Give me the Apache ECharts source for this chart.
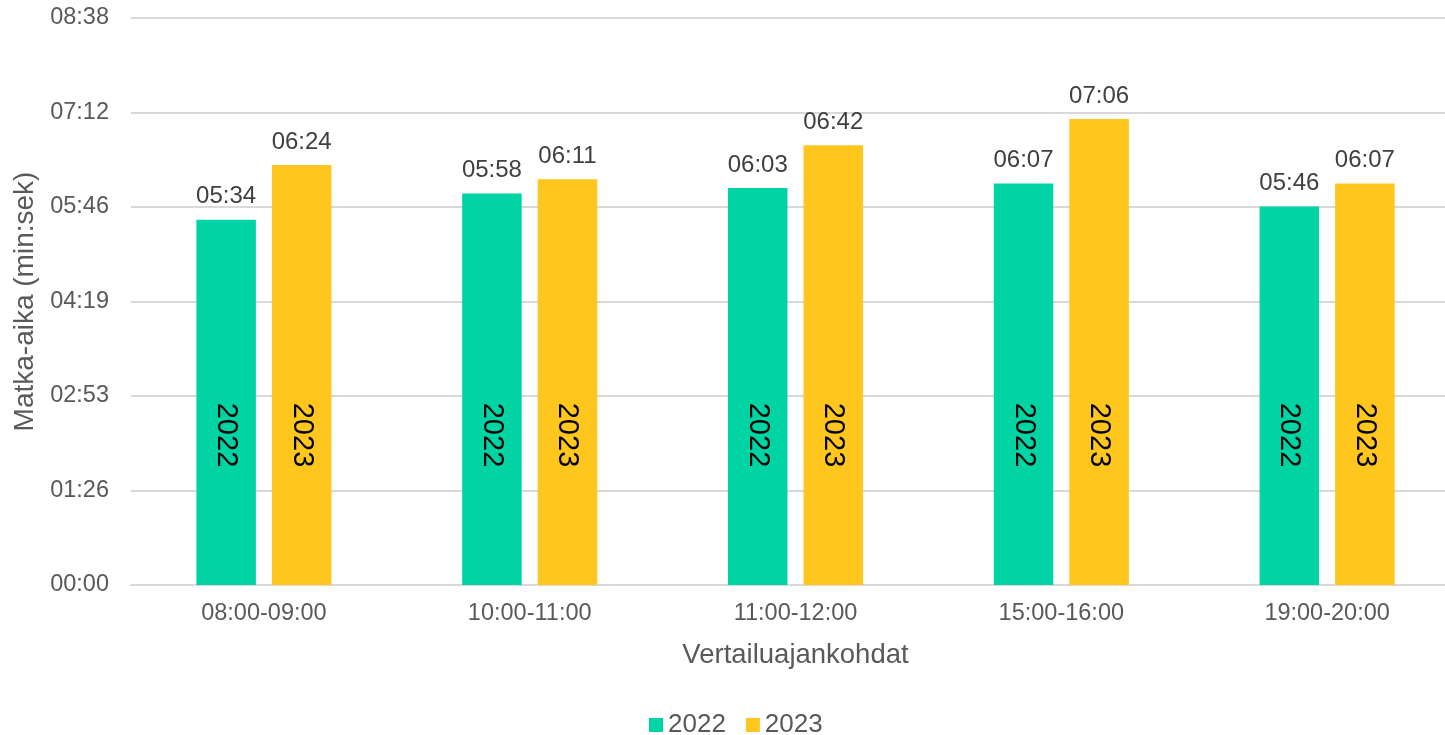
<!DOCTYPE html>
<html>
<head>
<meta charset="utf-8">
<script src="https://cdn.jsdelivr.net/npm/echarts@6/dist/echarts.min.js"></script>
<style>
html,body{margin:0;padding:0;background:#fff;overflow:hidden;}
#chart{width:1460px;height:735px;}
</style>
</head>
<body>
<div id="chart"></div>
<script>
// Data (values in seconds)
const categories = ['08:00-09:00', '10:00-11:00', '11:00-12:00', '15:00-16:00', '19:00-20:00'];
const seriesNames = ['2022', '2023'];
const values2022 = [334, 358, 363, 367, 346];   // 05:34, 05:58, 06:03, 06:07, 05:46
const values2023 = [384, 371, 402, 426, 367];   // 06:24, 06:11, 06:42, 07:06, 06:07
const yMin = 0;
const yMax = 518.4;      // 08:38
const yInterval = 86.4;  // 01:26
const yAxisTitle = 'Matka-aika (min:sek)';
const xAxisTitle = 'Vertailuajankohdat';

const FONT = '"Liberation Sans", Arial, sans-serif';
const COLORS = ['#00D4A5', '#FFC61E'];

function fmt(sec) {
  const s = Math.round(sec);
  const m = Math.floor(s / 60);
  const r = s % 60;
  return String(m).padStart(2, '0') + ':' + String(r).padStart(2, '0');
}

const chart = echarts.init(document.getElementById('chart'), null, {renderer: 'canvas'});

const BAR_W = 59.5;
const BAR_GAP = '27%';

function mainSeries(name, data, color) {
  return {
    name: name,
    type: 'bar',
    xAxisIndex: 0,
    data: data,
    barWidth: BAR_W,
    barGap: BAR_GAP,
    itemStyle: {color: color},
    label: {
      show: true,
      position: 'top',
      distance: 11,
      formatter: p => fmt(p.value),
      color: '#404040',
      fontFamily: FONT,
      fontSize: 24
    },
    emphasis: {disabled: true}
  };
}

function ghostSeries(name, data) {
  return {
    name: name + ' ',
    type: 'bar',
    xAxisIndex: 1,
    data: data,
    barWidth: BAR_W,
    barGap: BAR_GAP,
    silent: true,
    itemStyle: {color: 'rgba(0,0,0,0)'},
    label: {
      show: true,
      position: 'insideBottom',
      distance: 150,
      rotate: -90,
      align: 'center',
      verticalAlign: 'middle',
      formatter: () => name,
      color: '#000000',
      fontFamily: FONT,
      fontSize: 29
    },
    emphasis: {disabled: true}
  };
}

const option = {
  animation: false,
  backgroundColor: '#ffffff',
  textStyle: {fontFamily: FONT},
  grid: {left: 131, top: 18, width: 1329, height: 567, containLabel: false},
  legend: {
    data: seriesNames,
    left: 644,
    top: 707,
    icon: 'rect',
    itemWidth: 14,
    itemHeight: 14,
    itemGap: 20,
    textStyle: {color: '#595959', fontFamily: FONT, fontSize: 26},
    selectedMode: false
  },
  xAxis: [
    {
      type: 'category',
      data: categories,
      name: xAxisTitle,
      nameLocation: 'middle',
      nameGap: 56,
      nameTextStyle: {color: '#595959', fontFamily: FONT, fontSize: 27.5},
      axisLine: {show: true, lineStyle: {color: '#D9D9D9', width: 2}},
      axisTick: {show: false},
      axisLabel: {color: '#595959', fontFamily: FONT, fontSize: 23.5, margin: 17}
    },
    {
      type: 'category',
      data: categories,
      show: false
    }
  ],
  yAxis: {
    type: 'value',
    min: yMin,
    max: yMax,
    interval: yInterval,
    name: yAxisTitle,
    nameLocation: 'middle',
    nameGap: 82,
    nameTextStyle: {color: '#595959', fontFamily: FONT, fontSize: 28},
    axisLine: {show: false},
    axisTick: {show: false},
    splitLine: {show: true, lineStyle: {color: '#D9D9D9', width: 2}},
    axisLabel: {color: '#595959', fontFamily: FONT, fontSize: 23.5, margin: 22, padding: [4, 0, 0, 0], formatter: v => fmt(v)}
  },
  series: [
    mainSeries(seriesNames[0], values2022, COLORS[0]),
    mainSeries(seriesNames[1], values2023, COLORS[1]),
    ghostSeries(seriesNames[0], values2022),
    ghostSeries(seriesNames[1], values2023)
  ]
};

chart.setOption(option);
</script>
</body>
</html>
